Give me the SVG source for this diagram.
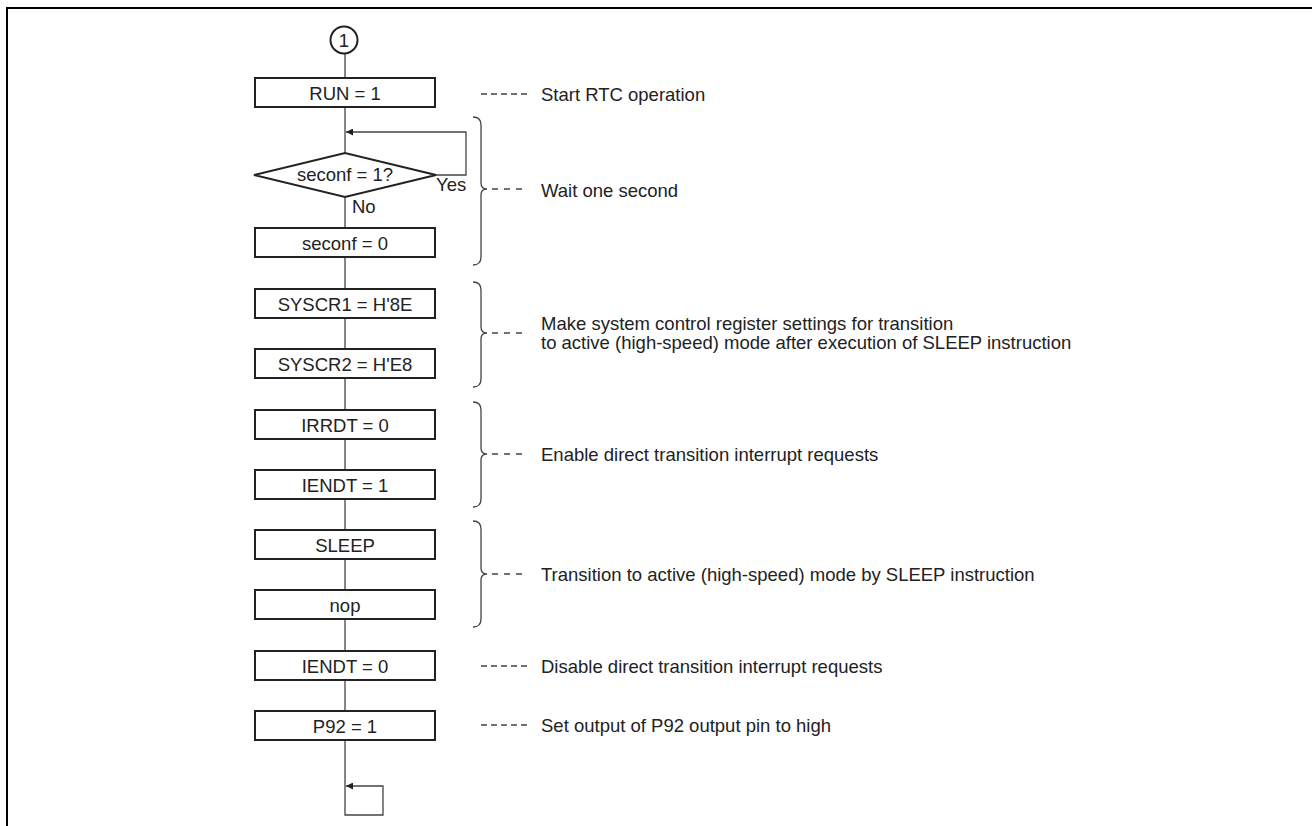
<svg xmlns="http://www.w3.org/2000/svg" width="1312" height="826" viewBox="0 0 1312 826">
<defs>
<style>
.box{fill:#fff;stroke:#222;stroke-width:2}
.t{font-family:"Liberation Sans",Arial,sans-serif;font-size:18.5px;fill:#222}
.c{text-anchor:middle}
.ln{fill:none;stroke:#444;stroke-width:1.3}
.br{fill:none;stroke:#444;stroke-width:1.3}
.d5{stroke:#444;stroke-width:1.3;stroke-dasharray:6 4}
.d3{stroke:#444;stroke-width:1.3;stroke-dasharray:6 6}
</style>
<marker id="ah" viewBox="0 0 10 10" refX="10" refY="5" markerWidth="9" markerHeight="7" markerUnits="userSpaceOnUse" orient="auto">
<path d="M0,0 L10,5 L0,10 z" fill="#222"/>
</marker>
</defs>
<rect width="1312" height="826" fill="#fff"/>
<path d="M7,826 V8 H1312" fill="none" stroke="#000" stroke-width="2"/>

<g id="connectors">
<line class="ln" x1="345" y1="54" x2="345" y2="78"/>
<line class="ln" x1="345" y1="107" x2="345" y2="153"/>
<polyline class="ln" points="436,175 466,175 466,132 346,132" marker-end="url(#ah)"/>
<line class="ln" x1="345" y1="197" x2="345" y2="228"/>
<line class="ln" x1="345" y1="257" x2="345" y2="289"/>
<line class="ln" x1="345" y1="318" x2="345" y2="349"/>
<line class="ln" x1="345" y1="378" x2="345" y2="410"/>
<line class="ln" x1="345" y1="439" x2="345" y2="470"/>
<line class="ln" x1="345" y1="499" x2="345" y2="530"/>
<line class="ln" x1="345" y1="559" x2="345" y2="590"/>
<line class="ln" x1="345" y1="619" x2="345" y2="651"/>
<line class="ln" x1="345" y1="680" x2="345" y2="711"/>
<polyline class="ln" points="345,740 345,815 383,815 383,786 346,786" marker-end="url(#ah)"/>
</g>

<g id="n_start"><circle cx="344" cy="40" r="13.5" fill="#fff" stroke="#222" stroke-width="2"/><text class="t c" x="344" y="46.5">1</text></g>
<g id="n_run"><rect class="box" x="255" y="78" width="180" height="29"/><text class="t c" x="345" y="100">RUN = 1</text></g>
<g id="n_dec"><polygon class="box" points="254,175 345,153 436,175 345,197"/><text class="t c" x="345" y="181">seconf = 1?</text>
<text class="t" x="436" y="191">Yes</text><text class="t" x="352" y="213">No</text></g>
<g id="n_sec0"><rect class="box" x="255" y="228" width="180" height="29"/><text class="t c" x="345" y="250">seconf = 0</text></g>
<g id="n_sys1"><rect class="box" x="255" y="289" width="180" height="29"/><text class="t c" x="345" y="311">SYSCR1 = H'8E</text></g>
<g id="n_sys2"><rect class="box" x="255" y="349" width="180" height="29"/><text class="t c" x="345" y="371">SYSCR2 = H'E8</text></g>
<g id="n_irr"><rect class="box" x="255" y="410" width="180" height="29"/><text class="t c" x="345" y="432">IRRDT = 0</text></g>
<g id="n_ien1"><rect class="box" x="255" y="470" width="180" height="29"/><text class="t c" x="345" y="492">IENDT = 1</text></g>
<g id="n_sleep"><rect class="box" x="255" y="530" width="180" height="29"/><text class="t c" x="345" y="552">SLEEP</text></g>
<g id="n_nop"><rect class="box" x="255" y="590" width="180" height="29"/><text class="t c" x="345" y="612">nop</text></g>
<g id="n_ien0"><rect class="box" x="255" y="651" width="180" height="29"/><text class="t c" x="345" y="673">IENDT = 0</text></g>
<g id="n_p92"><rect class="box" x="255" y="711" width="180" height="29"/><text class="t c" x="345" y="733">P92 = 1</text></g>

<g id="annotations">
<line class="d5" x1="481" y1="94" x2="527" y2="94"/>
<text class="t" x="541" y="100.5">Start RTC operation</text>

<path class="br" d="M473,117 Q481,117 481,125 L481,183 Q481,189 487,189 Q481,189 481,195 L481,257 Q481,265 473,265"/>
<line class="d3" x1="492" y1="189" x2="522" y2="189"/>
<text class="t" x="541" y="196.5">Wait one second</text>

<path class="br" d="M473,282 Q481,282 481,290 L481,327 Q481,333 487,333 Q481,333 481,339 L481,379 Q481,387 473,387"/>
<line class="d3" x1="492" y1="333" x2="522" y2="333"/>
<text class="t" x="541" y="330">Make system control register settings for transition</text>
<text class="t" x="541" y="349">to active (high-speed) mode after execution of SLEEP instruction</text>

<path class="br" d="M473,402 Q481,402 481,410 L481,448 Q481,454 487,454 Q481,454 481,460 L481,499 Q481,507 473,507"/>
<line class="d3" x1="492" y1="454" x2="522" y2="454"/>
<text class="t" x="541" y="460.5">Enable direct transition interrupt requests</text>

<path class="br" d="M473,521 Q481,521 481,529 L481,568 Q481,574 487,574 Q481,574 481,580 L481,619 Q481,627 473,627"/>
<line class="d3" x1="492" y1="574" x2="522" y2="574"/>
<text class="t" x="541" y="580.5">Transition to active (high-speed) mode by SLEEP instruction</text>

<line class="d5" x1="481" y1="666" x2="527" y2="666"/>
<text class="t" x="541" y="672.5">Disable direct transition interrupt requests</text>

<line class="d5" x1="481" y1="725" x2="527" y2="725"/>
<text class="t" x="541" y="731.5">Set output of P92 output pin to high</text>
</g>
</svg>
